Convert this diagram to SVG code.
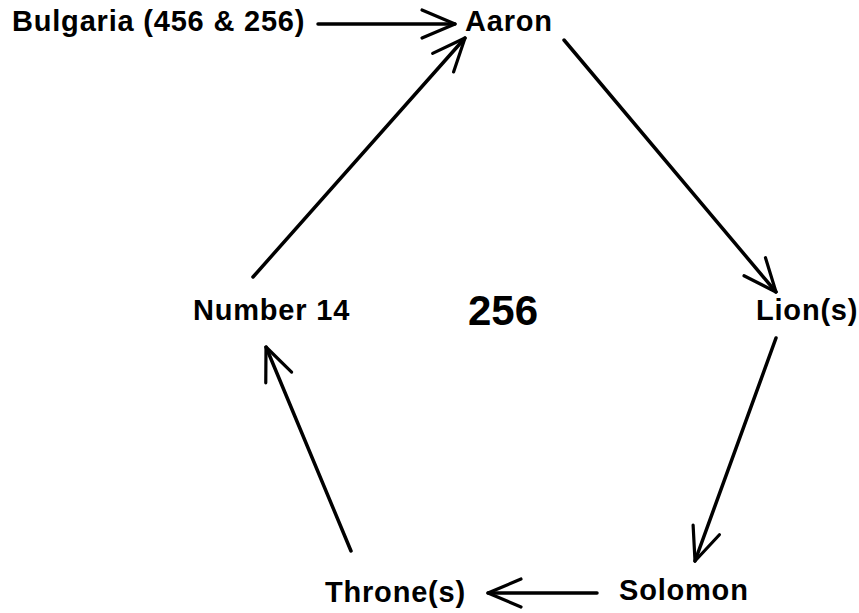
<svg xmlns="http://www.w3.org/2000/svg" width="859" height="613" viewBox="0 0 859 613">
<style>
.lbl{font-family:"Liberation Sans",Arial,sans-serif;font-weight:bold;font-size:29px;letter-spacing:0.8px;fill:#000}
.big{font-family:"Liberation Sans",Arial,sans-serif;font-weight:bold;font-size:42px;fill:#000}
.edge{stroke:#000;stroke-width:3.5;fill:none;stroke-linecap:round;marker-end:url(#head)}
</style>
<defs>
<marker id="head" markerUnits="userSpaceOnUse" markerWidth="40" markerHeight="34" refX="36" refY="17" orient="auto" overflow="visible">
<path d="M3,3 L36,17 L3,31" fill="none" stroke="#000" stroke-width="3.2" stroke-linecap="round" stroke-linejoin="round"/>
</marker>
</defs>
<rect width="859" height="613" fill="#fff"/>
<g id="connectors">
<line class="edge" x1="318" y1="24" x2="455" y2="24"/>
<line class="edge" x1="564" y1="40" x2="776" y2="292"/>
<line class="edge" x1="776" y1="338" x2="695" y2="561"/>
<line class="edge" x1="597" y1="593" x2="488" y2="593"/>
<line class="edge" x1="351" y1="551" x2="266" y2="347"/>
<line class="edge" x1="253" y1="277" x2="465" y2="38"/>
</g>
<g id="bulgaria"><text class="lbl" x="12" y="31">Bulgaria (456 &amp; 256)</text></g>
<g id="aaron"><text class="lbl" x="465" y="31">Aaron</text></g>
<g id="lions"><text class="lbl" x="756" y="320">Lion(s)</text></g>
<g id="solomon"><text class="lbl" x="619" y="600">Solomon</text></g>
<g id="thrones"><text class="lbl" x="325" y="602">Throne(s)</text></g>
<g id="number14"><text class="lbl" x="193" y="320">Number 14</text></g>
<g id="center"><text class="big" x="468" y="325">256</text></g>
</svg>
